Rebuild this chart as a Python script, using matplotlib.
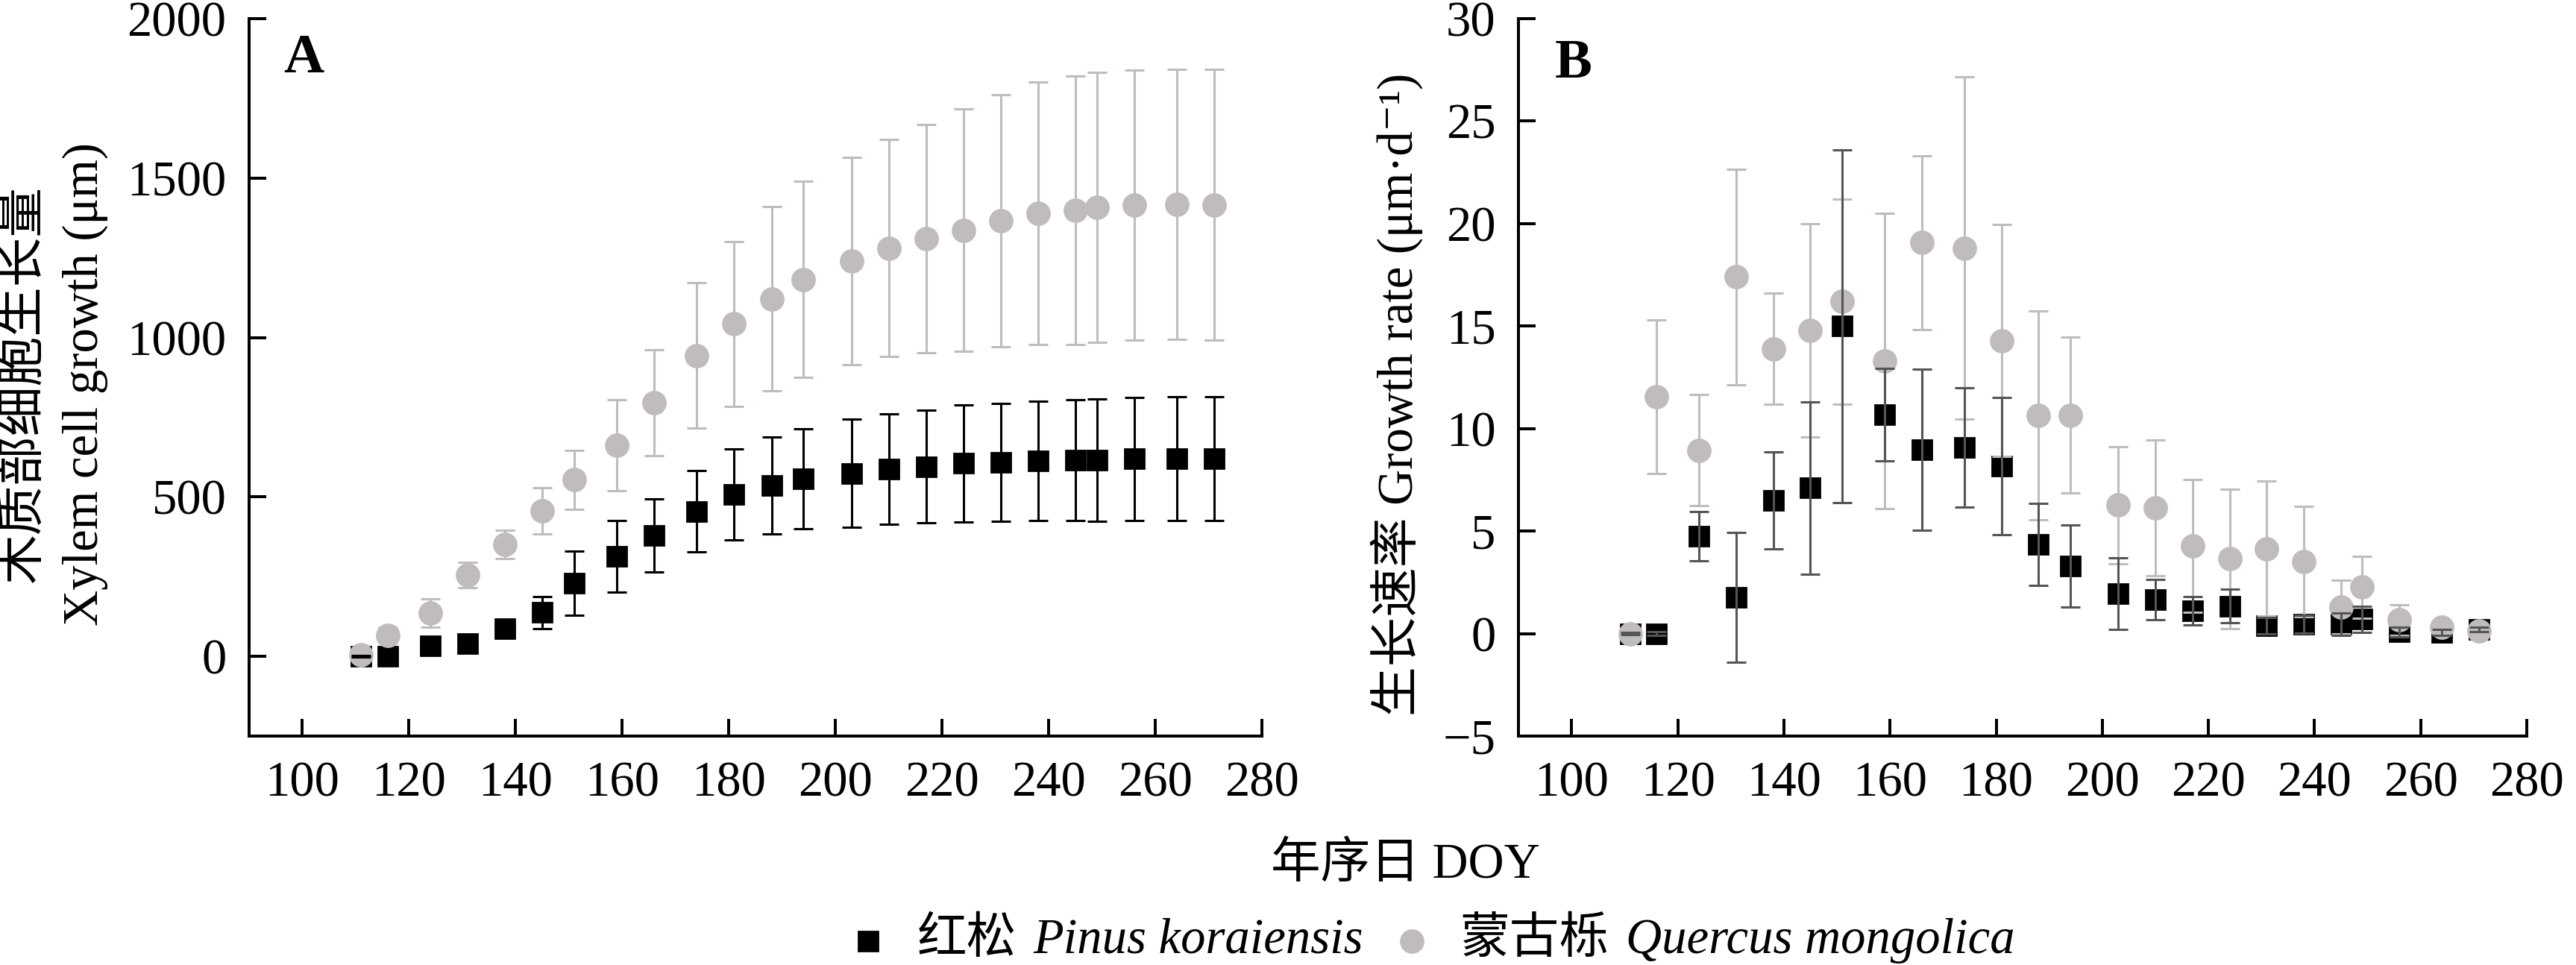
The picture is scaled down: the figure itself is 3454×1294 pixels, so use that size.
# Crecimiento del xilema: Pinus koraiensis vs Quercus mongolica
import matplotlib.pyplot as plt
from matplotlib.lines import Line2D

plt.rcParams['font.family'] = ['Liberation Serif', 'Noto Sans CJK SC', 'DejaVu Serif']
plt.rcParams['axes.unicode_minus'] = True

# Día del año (DOY)
doy = [111, 116, 124, 131, 138, 145, 151, 159, 166, 174, 181, 188,
       194, 203, 210, 217, 224, 231, 238, 245, 249, 256, 264, 271]

# Panel A: crecimiento acumulado (μm)
a_pinus = [0, 0, 34, 41, 88, 138, 230, 313, 379, 455, 508, 536,
           557, 574, 587, 595, 605, 608, 613, 616, 616, 620, 620, 621]
a_pinus_err = [3, 5, 10, 12, 15, 50, 100, 112, 115, 127, 142, 153,
               157, 170, 173, 176, 183, 185, 188, 190, 192, 193, 194, 194]
a_quercus = [5, 67, 136, 256, 351, 457, 554, 662, 795, 944, 1043, 1121,
             1182, 1239, 1280, 1310, 1336, 1366, 1390, 1398, 1408, 1415, 1418, 1416]
a_quercus_err = [5, 25, 45, 40, 45, 72, 93, 142, 166, 228, 258, 289,
                 308, 325, 340, 357, 380, 396, 412, 421, 423, 423, 423, 424]

# Panel B: tasa de crecimiento (μm/d)
b_pinus = [0, 0, 4.74, 1.78, 6.5, 7.1, 15.0, 10.68, 8.98, 9.08, 8.16, 4.36,
           3.31, 1.94, 1.66, 1.1, 1.35, 0.39, 0.46, 0.45, 0.7, 0.08, 0.05, 0.2]
b_pinus_err = [0.05, 0.1, 1.2, 3.17, 2.35, 4.2, 8.6, 2.27, 3.93, 2.9, 3.35, 2.0,
               2.0, 1.75, 1.0, 0.69, 0.82, 0.39, 0.44, 0.55, 0.63, 0.25, 0.15, 0.1]
b_quercus = [0, 11.55, 8.95, 17.4, 13.9, 14.8, 16.2, 13.3, 19.07, 18.8, 14.3, 10.65,
             10.65, 6.27, 6.14, 4.28, 3.65, 4.15, 3.52, 1.3, 2.26, 0.66, 0.3, 0.13]
b_quercus_err = [0.05, 3.75, 2.7, 5.25, 2.7, 5.2, 5.0, 7.2, 4.25, 8.35, 5.65, 5.1,
                 3.8, 2.85, 3.3, 3.25, 3.4, 3.3, 2.7, 1.3, 1.5, 0.76, 0.2, 0.1]

GRAY = '#bfbbbf'
DARK = '#555555'
FS = 24
W, H = 3454, 1294

fig = plt.figure(figsize=(W / 200, H / 200), dpi=200)
axA = fig.add_axes([0.0967, 0.2372, 0.3932, 0.7435])
axB = fig.add_axes([0.5895, 0.2372, 0.3914, 0.7435])


def panel(ax, pin, pin_err, que, que_err, pin_ecolor):
    ax.plot(doy, pin, ls='none', marker='s', ms=9.4, color='black', zorder=3)
    ax.plot(doy, que, ls='none', marker='o', ms=10.8, color=GRAY, zorder=4)
    ax.errorbar(doy, que, yerr=que_err, fmt='none', ecolor=GRAY,
                elinewidth=1.1, capsize=4.6, capthick=1.1, zorder=5)
    ax.errorbar(doy, pin, yerr=pin_err, fmt='none', ecolor=pin_ecolor,
                elinewidth=1.1, capsize=4.6, capthick=1.1, zorder=6)
    ax.set_xlim(90, 280)
    ax.set_xticks(range(100, 281, 20))
    for s in ['top', 'right']:
        ax.spines[s].set_visible(False)
    for s in ['left', 'bottom']:
        ax.spines[s].set_linewidth(1.44)
    ax.tick_params(direction='in', length=8.3, width=1.44, labelsize=FS)
    ax.tick_params(axis='y', pad=11)
    ax.tick_params(axis='x', pad=12)


panel(axA, a_pinus, a_pinus_err, a_quercus, a_quercus_err, 'black')
axA.set_ylim(-250, 2000)
axA.set_yticks(range(0, 2001, 500))

panel(axB, b_pinus, b_pinus_err, b_quercus, b_quercus_err, DARK)
axB.set_ylim(-5, 30)
axB.set_yticks(range(-5, 31, 5))

axA.text(0.034, 0.925, 'A', transform=axA.transAxes, fontsize=27,
         fontweight='bold', family='Liberation Serif', va='baseline')
axB.text(0.036, 0.918, 'B', transform=axB.transAxes, fontsize=27,
         fontweight='bold', family='Liberation Serif', va='baseline')

# Etiquetas de ejes
fig.text(0.0093, 0.602, '木质部细胞生长量', rotation=90, ha='center', va='center', fontsize=FS)
fig.text(0.033, 0.602, 'Xylem cell growth (μm)', rotation=90, ha='center', va='center', fontsize=FS)
fig.text(0.542, 0.591, '生长速率 Growth rate (μm·d⁻¹)', rotation=90, ha='center', va='center', fontsize=FS)
fig.text(0.5456, 1 - 1177 / H, '年序日 DOY', ha='center', va='baseline', fontsize=FS)

# Leyenda manual (chino normal + nombre científico en cursiva)
renderer = fig.canvas.get_renderer()
base_y = 1 - 1278 / H
mark_y = 1 - 1262 / H


def put(x_px, s, **kw):
    t = fig.text(x_px / W, base_y, s, ha='left', va='baseline', fontsize=FS, **kw)
    return t.get_window_extent(renderer).x1


def marker(x_px, m, ms, color):
    fig.add_artist(Line2D([x_px / W], [mark_y], transform=fig.transFigure,
                          marker=m, ms=ms, color=color, ls='none'))


marker(1164, 's', 9.4, 'black')
e = put(1230, '红松', family=['Noto Sans CJK SC'])
e = put(e + 22, 'Pinus koraiensis', family='Liberation Serif', style='italic')
marker(e + 65, 'o', 10.8, GRAY)
e = put(e + 130, '蒙古栎', family=['Noto Sans CJK SC'])
put(e + 22, 'Quercus mongolica', family='Liberation Serif', style='italic')

fig.savefig('out.png', dpi=200)
